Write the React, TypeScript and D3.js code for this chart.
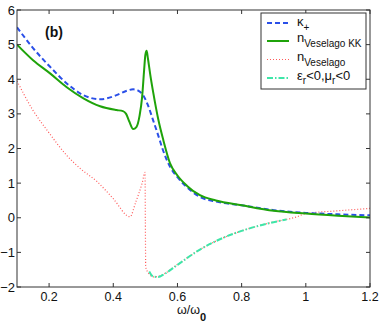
import * as d3 from 'd3';

const W = 381;
const H = 325;

// kappa+ (blue dashed)
const kappaX = [0.1, 0.15, 0.203, 0.255, 0.307, 0.359, 0.41, 0.44, 0.462, 0.48, 0.493, 0.508, 0.524, 0.54, 0.555, 0.577, 0.6, 0.63, 0.67, 0.72, 0.8, 0.9, 1.0, 1.1, 1.2];
const kappaY = [5.5, 4.9, 4.36, 3.88, 3.54, 3.42, 3.54, 3.66, 3.71, 3.66, 3.54, 3.25, 2.82, 2.38, 1.95, 1.47, 1.17, 0.88, 0.6, 0.47, 0.36, 0.22, 0.14, 0.1, 0.07];

// n Veselago KK (green solid)
const kkX = [0.1, 0.15, 0.203, 0.255, 0.307, 0.359, 0.41, 0.43, 0.44, 0.45, 0.462, 0.472, 0.482, 0.49, 0.496, 0.5, 0.504, 0.508, 0.515, 0.525, 0.54, 0.556, 0.577, 0.6, 0.63, 0.67, 0.72, 0.8, 0.9, 1.0, 1.1, 1.2];
const kkY = [5.0, 4.55, 4.17, 3.77, 3.45, 3.22, 3.11, 3.08, 3.0, 2.78, 2.56, 2.62, 2.95, 3.5, 4.25, 4.7, 4.82, 4.6, 4.15, 3.59, 2.85, 2.24, 1.57, 1.22, 0.92, 0.65, 0.5, 0.36, 0.2, 0.12, 0.06, 0.01];

// n Veselago (red dotted)
const vesX = [0.1, 0.15, 0.2, 0.255, 0.3, 0.35, 0.4, 0.452, 0.47, 0.49, 0.499, 0.5, 0.501, 0.51, 0.525, 0.545, 0.6, 0.67, 0.75, 0.8, 0.9, 0.97, 1.0, 1.1, 1.2];
const vesY = [3.95, 3.1, 2.45, 1.8, 1.4, 1.04, 0.55, 0.03, 0.45, 1.0, 1.31, -0.1, -1.42, -1.6, -1.71, -1.68, -1.35, -0.92, -0.55, -0.38, -0.12, 0.02, 0.12, 0.2, 0.27];

// eps_r<0, mu_r<0 region (cyan dash-dot)
const negX = [0.512, 0.525, 0.54, 0.56, 0.6, 0.67, 0.75, 0.8, 0.88, 0.94];
const negY = [-1.55, -1.7, -1.71, -1.62, -1.36, -0.92, -0.55, -0.38, -0.17, -0.05];

const xTicks = [0.2, 0.4, 0.6, 0.8, 1, 1.2];
const yTicks = [-2, -1, 0, 1, 2, 3, 4, 5, 6];

const left = 17;
const right = 370;
const top = 10;
const bottom = 287;

const FONT = 'Liberation Sans, Arial, Helvetica, sans-serif';

export default function App() {
  const x = d3.scaleLinear().domain([0.1, 1.2]).range([left, right]);
  const y = d3.scaleLinear().domain([-2, 6]).range([bottom, top]);

  const mk = (xs: number[], ys: number[], curve: d3.CurveFactory) =>
    d3
      .line<number>()
      .x((_, i) => x(xs[i]))
      .y((d) => y(d))
      .curve(curve)(ys) || '';

  const kappaPath = mk(kappaX, kappaY, d3.curveMonotoneX);
  const kkPath = mk(kkX, kkY, d3.curveMonotoneX);
  const vesPath = mk(vesX, vesY, d3.curveMonotoneX);
  const negPath = mk(negX, negY, d3.curveMonotoneX);

  const tl = 4;
  const blue = '#2a4fe8';
  const green = '#1fa30a';
  const red = '#ff5a5a';
  const cyan = '#3ee6a8';

  const legend = [
    { color: blue, dash: '5,3', width: 2 },
    { color: green, dash: '', width: 2 },
    { color: red, dash: '1,2', width: 1.2 },
    { color: cyan, dash: '6,2,1.5,2', width: 2 },
  ];
  const legRows = [23, 41, 59.5, 78];

  return (
    <svg width={W} height={H} style={{ position: 'absolute', left: 0, top: 0, background: '#fff' }}>
      <rect x={0} y={0} width={W} height={H} fill="#fff" />
      <defs>
        <clipPath id="plot">
          <rect x={left} y={top} width={right - left} height={bottom - top} />
        </clipPath>
      </defs>

      <g clipPath="url(#plot)" fill="none">
        <path d={vesPath} stroke={red} strokeWidth={1.2} strokeDasharray="1,2" />
        <path d={negPath} stroke={cyan} strokeWidth={2} strokeDasharray="6,2,1.5,2" />
        <path d={kappaPath} stroke={blue} strokeWidth={2} strokeDasharray="5,3" />
        <path d={kkPath} stroke={green} strokeWidth={2} />
      </g>

      {/* frame and ticks */}
      <rect x={left} y={top} width={right - left} height={bottom - top} fill="none" stroke="#333" strokeWidth={1} />
      {xTicks.map((t) => (
        <g key={'x' + t}>
          <line x1={x(t)} x2={x(t)} y1={bottom} y2={bottom - tl} stroke="#333" />
          <line x1={x(t)} x2={x(t)} y1={top} y2={top + tl} stroke="#333" />
          <text x={x(t)} y={301} textAnchor="middle" fontFamily={FONT} fontSize={12.5} fill="#111">
            {String(t)}
          </text>
        </g>
      ))}
      {yTicks.map((t) => (
        <g key={'y' + t}>
          <line x1={left} x2={left + tl} y1={y(t)} y2={y(t)} stroke="#333" />
          <line x1={right} x2={right - tl} y1={y(t)} y2={y(t)} stroke="#333" />
          <text x={15} y={y(t) + 4.5} textAnchor="end" fontFamily={FONT} fontSize={13} fill="#111">
            {t < 0 ? '\u2212' + Math.abs(t) : String(t)}
          </text>
        </g>
      ))}

      <text x={45} y={37} fontFamily={FONT} fontSize={14} fontWeight="bold" fill="#111">
        (b)
      </text>

      <text x={177} y={314} fontFamily={FONT} fontSize={12.5} fill="#111">
        ω/ω
        <tspan dy={7} fontSize={11} fontWeight="bold">0</tspan>
      </text>

      {/* legend */}
      <rect x={261} y={13} width={105} height={76} fill="#fff" stroke="#333" strokeWidth={1} />
      {legend.map((l, i) => (
        <line
          key={'l' + i}
          x1={267}
          x2={289}
          y1={legRows[i]}
          y2={legRows[i]}
          stroke={l.color}
          strokeWidth={l.width}
          strokeDasharray={l.dash || undefined}
        />
      ))}
      <g fontFamily={FONT} fill="#111">
        <text x={297} y={legRows[0] + 3} fontSize={13}>
          κ<tspan dy={5} fontSize={10}>+</tspan>
        </text>
        <text x={297} y={legRows[1] + 1} fontSize={13}>
          n<tspan dy={5} fontSize={10}>Veselago KK</tspan>
        </text>
        <text x={297} y={legRows[2] + 1} fontSize={13}>
          n<tspan dy={5} fontSize={10}>Veselago</tspan>
        </text>
        <text x={297} y={legRows[3] + 2} fontSize={13}>
          ε<tspan dy={4} fontSize={10}>r</tspan>
          <tspan dy={-4}>&lt;0,μ</tspan>
          <tspan dy={4} fontSize={10}>r</tspan>
          <tspan dy={-4}>&lt;0</tspan>
        </text>
      </g>
    </svg>
  );
}
